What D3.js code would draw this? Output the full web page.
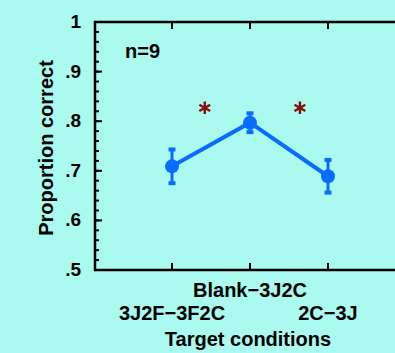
<!DOCTYPE html>
<html>
<head>
<meta charset="utf-8">
<script src="https://cdn.jsdelivr.net/npm/d3@7"></script>
<style>
  body { margin: 0; background: #aafaf0; }
  text { font-family: "Liberation Sans", Arial, sans-serif; font-weight: bold; fill: #000; }
</style>
</head>
<body>
<svg id="chart" width="395" height="353"></svg>
<script>
// data
var conditions = ['3J2F\u22123F2C', 'Blank\u22123J2C', '2C\u22123J'];
var meanCorrect = [0.709, 0.797, 0.689];
var errCorrect = [0.036, 0.021, 0.035];
var yTicks = [0.5, 0.6, 0.7, 0.8, 0.9, 1];
var yTickLabels = ['.5', '.6', '.7', '.8', '.9', '1'];
var sigX = [1.42, 2.64];   // asterisk positions (x units)
var sigY = 0.827;

var svg = d3.select('#chart');
var mLeft = 94, mTop = 22, mBottom = 270, mRight = 406;

var x = d3.scaleLinear().domain([0, 4]).range([mLeft, mRight]);
var y = d3.scaleLinear().domain([0.5, 1]).range([mBottom, mTop]);
var ax = x(0) + 1;

// minor ticks on y
var minor = d3.range(0.5, 1.0001, 0.02);
svg.append('g').selectAll('line').data(minor).enter().append('line')
   .attr('x1', ax).attr('x2', ax + 4)
   .attr('y1', d => y(d)).attr('y2', d => y(d))
   .attr('stroke', '#000').attr('stroke-width', 2);

svg.append('g').selectAll('line').data(yTicks).enter().append('line')
   .attr('x1', ax).attr('x2', ax + 7)
   .attr('y1', d => y(d)).attr('y2', d => y(d))
   .attr('stroke', '#000').attr('stroke-width', 2);

svg.append('g').selectAll('text').data(yTicks).enter().append('text')
   .attr('x', 81).attr('y', d => y(d) + 6)
   .attr('text-anchor', 'end').attr('font-size', 19)
   .text((d, i) => yTickLabels[i]);

// axis lines
svg.append('line').attr('x1', ax).attr('x2', 395).attr('y1', mTop).attr('y2', mTop)
   .attr('stroke', '#000').attr('stroke-width', 2.5);
svg.append('line').attr('x1', ax).attr('x2', 395).attr('y1', mBottom).attr('y2', mBottom)
   .attr('stroke', '#000').attr('stroke-width', 2.5);
svg.append('line').attr('x1', ax).attr('x2', ax).attr('y1', mTop - 1.2).attr('y2', mBottom + 1.2)
   .attr('stroke', '#000').attr('stroke-width', 2.5);

// x ticks top & bottom
var xt = [1, 2, 3];
svg.append('g').selectAll('line').data(xt).enter().append('line')
   .attr('x1', d => x(d)).attr('x2', d => x(d))
   .attr('y1', mTop).attr('y2', mTop + 7)
   .attr('stroke', '#000').attr('stroke-width', 2);
svg.append('g').selectAll('line').data(xt).enter().append('line')
   .attr('x1', d => x(d)).attr('x2', d => x(d))
   .attr('y1', mBottom).attr('y2', mBottom - 7)
   .attr('stroke', '#000').attr('stroke-width', 2);

// category labels, middle one raised
svg.append('g').selectAll('text').data(conditions).enter().append('text')
   .attr('x', (d, i) => x(i + 1))
   .attr('y', (d, i) => i == 1 ? 297 : 320)
   .attr('text-anchor', 'middle').attr('font-size', 20)
   .text(d => d);

svg.append('text').attr('x', 248).attr('y', 346).attr('text-anchor', 'middle')
   .attr('font-size', 20).text('Target conditions');

svg.append('text').attr('transform', 'translate(53,148) rotate(-90)')
   .attr('text-anchor', 'middle').attr('font-size', 20).text('Proportion correct');

svg.append('text').attr('x', 125).attr('y', 58).attr('font-size', 20).text('n=9');

// line + error bars + markers
var blue = '#0a6cff';
var line = d3.line().x((d, i) => x(i + 1)).y(d => y(d));
svg.append('path').datum(meanCorrect).attr('d', line)
   .attr('fill', 'none').attr('stroke', blue).attr('stroke-width', 4);

var eb = svg.append('g').selectAll('g').data(meanCorrect).enter().append('g');
eb.append('line')
  .attr('x1', (d, i) => x(i + 1)).attr('x2', (d, i) => x(i + 1))
  .attr('y1', (d, i) => y(d - errCorrect[i])).attr('y2', (d, i) => y(d + errCorrect[i]))
  .attr('stroke', blue).attr('stroke-width', 3);
eb.append('rect')
  .attr('x', (d, i) => x(i + 1) - 3.5).attr('y', (d, i) => y(d + errCorrect[i]) - 1)
  .attr('width', 7).attr('height', 4).attr('fill', blue);
eb.append('rect')
  .attr('x', (d, i) => x(i + 1) - 3.5).attr('y', (d, i) => y(d - errCorrect[i]) - 3)
  .attr('width', 7).attr('height', 4).attr('fill', blue);
eb.append('circle')
  .attr('cx', (d, i) => x(i + 1)).attr('cy', d => y(d))
  .attr('r', 7).attr('fill', blue);

// significance asterisks
svg.append('g').selectAll('path').data(sigX).enter().append('path')
   .attr('transform', d => 'translate(' + x(d) + ',' + y(sigY) + ')')
   .attr('d', d3.symbol().type(d3.symbolAsterisk).size(110))
   .attr('fill', 'none').attr('stroke', '#8b0a0a').attr('stroke-width', 2.4);
</script>
</body>
</html>
